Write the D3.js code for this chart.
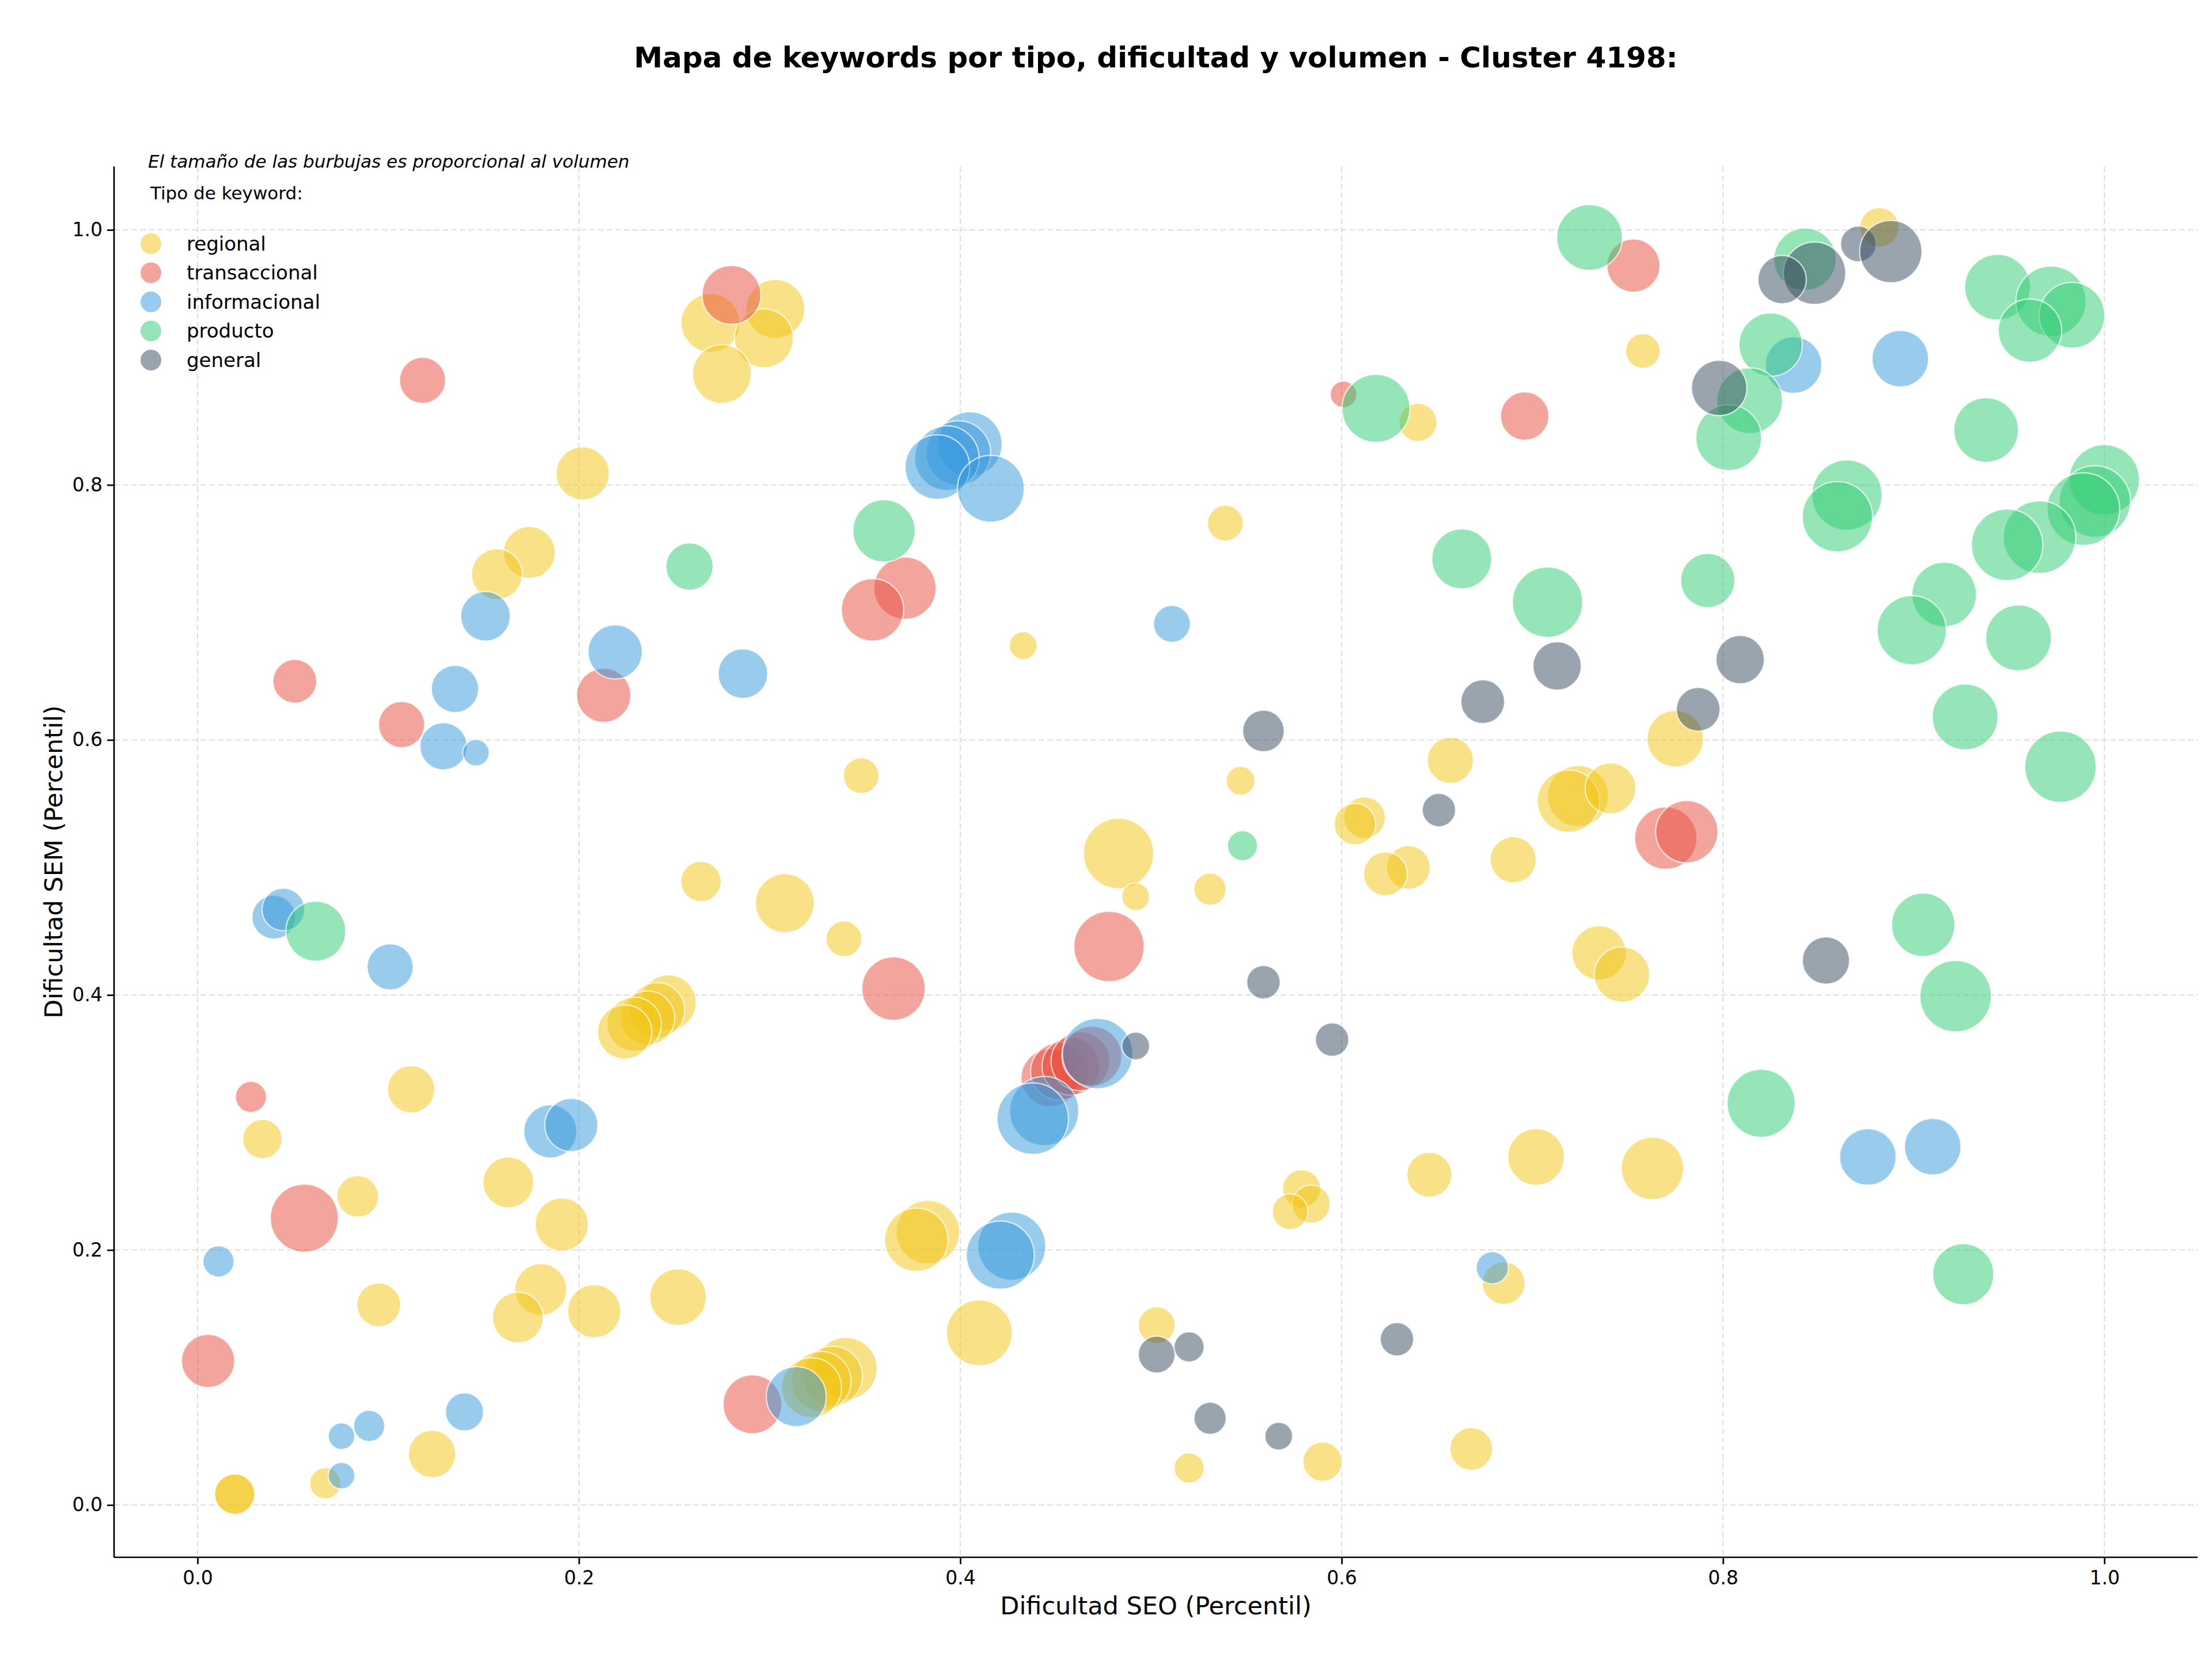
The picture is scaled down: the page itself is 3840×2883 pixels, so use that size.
<!DOCTYPE html>
<html>
<head>
<meta charset="utf-8">
<script src="https://cdn.jsdelivr.net/npm/d3@7"></script>
<style>
  body { margin: 0; background: #fff; }
  svg { font-family: "DejaVu Sans", sans-serif; }
  .axis text { font-size: 33px; fill: #000; }
  .axis path, .axis line { stroke: #000; stroke-width: 2.7px; }
  .grid line { stroke: #dedede; stroke-width: 2px; stroke-dasharray: 10, 5; }
</style>
</head>
<body>
<svg width="3840" height="2883"></svg>
<script>
// [dificultad SEO, dificultad SEM, volumen]
var tipos = ["regional", "transaccional", "informacional", "producto", "general"];
var colores = ["#F1C40F", "#E74C3C", "#3498DB", "#2ECC71", "#34495E"];
var ticks = [0, 0.2, 0.4, 0.6, 0.8, 1.0];

var regional = [
  [0.882, 1.002, 1160], [0.269, 0.927, 2600], [0.303, 0.938, 2600], [0.297, 0.915, 2600],
  [0.275, 0.887, 2600], [0.758, 0.905, 900], [0.202, 0.809, 2120], [0.640, 0.849, 1090],
  [0.174, 0.747, 2020], [0.157, 0.730, 1940], [0.539, 0.770, 960], [0.433, 0.674, 580],
  [0.348, 0.572, 960], [0.547, 0.568, 625], [0.657, 0.584, 1600], [0.775, 0.601, 2400],
  [0.724, 0.556, 2810], [0.719, 0.552, 2920], [0.741, 0.562, 1940], [0.612, 0.539, 1300],
  [0.607, 0.534, 1300], [0.635, 0.500, 1440], [0.623, 0.495, 1440], [0.690, 0.506, 1600],
  [0.483, 0.511, 3720], [0.492, 0.477, 580], [0.531, 0.483, 780], [0.264, 0.489, 1220],
  [0.308, 0.472, 2600], [0.339, 0.444, 960], [0.735, 0.433, 2210], [0.747, 0.416, 2300],
  [0.247, 0.394, 2300], [0.241, 0.388, 2300], [0.236, 0.382, 2210], [0.229, 0.377, 2210],
  [0.224, 0.371, 2210], [0.112, 0.326, 1680], [0.034, 0.287, 1160], [0.084, 0.242, 1300],
  [0.163, 0.253, 1940], [0.191, 0.220, 2120], [0.646, 0.259, 1520], [0.702, 0.273, 2400],
  [0.763, 0.264, 2920], [0.579, 0.248, 1090], [0.584, 0.236, 1090], [0.573, 0.230, 960],
  [0.383, 0.214, 3020], [0.377, 0.208, 3020], [0.095, 0.157, 1440], [0.180, 0.169, 2020],
  [0.168, 0.147, 1940], [0.208, 0.152, 2120], [0.252, 0.163, 2400], [0.410, 0.135, 3250],
  [0.685, 0.174, 1370], [0.503, 0.141, 1020], [0.340, 0.107, 2920], [0.333, 0.101, 2700],
  [0.327, 0.097, 2700], [0.322, 0.092, 2700], [0.123, 0.040, 1680], [0.0195, 0.0085, 1220],
  [0.0195, 0.0085, 1220], [0.067, 0.017, 730], [0.520, 0.029, 680], [0.590, 0.034, 1160],
  [0.668, 0.044, 1370]
];

var transaccional = [
  [0.280, 0.949, 2600], [0.753, 0.972, 2120], [0.118, 0.882, 1600], [0.601, 0.871, 530],
  [0.696, 0.854, 1760], [0.371, 0.719, 2920], [0.354, 0.702, 2920], [0.051, 0.646, 1440],
  [0.107, 0.612, 1600], [0.213, 0.635, 2210], [0.770, 0.523, 2920], [0.781, 0.528, 2920],
  [0.478, 0.438, 3720], [0.365, 0.405, 3020], [0.028, 0.320, 730], [0.056, 0.225, 3480],
  [0.0055, 0.113, 2120], [0.291, 0.079, 2600], [0.447, 0.335, 2500], [0.452, 0.340, 2500],
  [0.458, 0.344, 2500], [0.463, 0.348, 2600], [0.469, 0.352, 2700]
];

var informacional = [
  [0.893, 0.899, 2400], [0.837, 0.894, 2400], [0.405, 0.832, 3140], [0.399, 0.825, 3140],
  [0.393, 0.821, 3140], [0.388, 0.814, 3140], [0.416, 0.797, 3360], [0.151, 0.697, 1850],
  [0.219, 0.669, 2210], [0.511, 0.691, 1020], [0.135, 0.640, 1680], [0.286, 0.652, 1850],
  [0.129, 0.595, 1680], [0.146, 0.590, 530], [0.040, 0.461, 1440], [0.045, 0.467, 1370],
  [0.101, 0.422, 1600], [0.185, 0.293, 2120], [0.196, 0.298, 2120], [0.472, 0.354, 3720],
  [0.444, 0.309, 3600], [0.438, 0.303, 3840], [0.427, 0.203, 3480], [0.421, 0.196, 3480],
  [0.314, 0.085, 2700], [0.011, 0.191, 730], [0.140, 0.073, 1090], [0.090, 0.062, 730],
  [0.0755, 0.054, 530], [0.0755, 0.023, 530], [0.679, 0.186, 780], [0.876, 0.273, 2400],
  [0.910, 0.281, 2400]
];

var producto = [
  [0.730, 0.994, 3250], [0.843, 0.977, 2920], [0.944, 0.955, 3250], [0.972, 0.944, 3720],
  [0.983, 0.933, 3250], [0.961, 0.921, 3020], [0.825, 0.910, 3020], [0.814, 0.866, 3250],
  [0.803, 0.837, 3250], [0.938, 0.843, 3140], [0.618, 0.860, 3480], [1.000, 0.804, 3720],
  [0.995, 0.787, 3840], [0.989, 0.781, 3970], [0.865, 0.792, 3720], [0.860, 0.775, 3720],
  [0.966, 0.759, 3970], [0.949, 0.753, 3840], [0.663, 0.742, 2700], [0.708, 0.708, 3720],
  [0.792, 0.725, 2210], [0.916, 0.714, 3140], [0.899, 0.686, 3600], [0.955, 0.680, 3250],
  [0.927, 0.618, 3250], [0.977, 0.579, 3840], [0.548, 0.517, 680], [0.905, 0.455, 3020],
  [0.922, 0.399, 3840], [0.820, 0.315, 3480], [0.926, 0.181, 2810], [0.360, 0.764, 2920],
  [0.258, 0.736, 1680], [0.062, 0.450, 2700]
];

var general = [
  [0.871, 0.989, 960], [0.888, 0.983, 2920], [0.848, 0.966, 2920], [0.831, 0.961, 1760],
  [0.798, 0.876, 2300], [0.713, 0.658, 1760], [0.809, 0.663, 1760], [0.674, 0.630, 1440],
  [0.787, 0.624, 1440], [0.559, 0.607, 1300], [0.651, 0.545, 840], [0.559, 0.410, 840],
  [0.854, 0.427, 1680], [0.595, 0.365, 840], [0.492, 0.360, 580], [0.503, 0.118, 1020],
  [0.520, 0.124, 680], [0.531, 0.068, 780], [0.567, 0.054, 580], [0.629, 0.130, 840]
];

var series = [regional, transaccional, informacional, producto, general];

function mapaKeywords() {
    var svg = d3.select("svg"),
        margin = { top: 289, right: 25, bottom: 180, left: 198 },
        width = +svg.attr("width") - margin.left - margin.right,
        height = +svg.attr("height") - margin.top - margin.bottom;

    var x = d3.scaleLinear().domain([-0.0438, 1.0489]).range([0, width]);
    var y = d3.scaleLinear().domain([-0.041, 1.0497]).range([height, 0]);
    var r = d3.scaleSqrt().domain([0, 4000]).range([0, 63.25]);

    var g = svg.append("g")
        .attr("transform", "translate(" + margin.left + "," + margin.top + ")");

    // grid
    g.append("g").attr("class", "grid")
        .selectAll("line.v").data(ticks).enter().append("line")
        .attr("x1", function (d) { return x(d); }).attr("x2", function (d) { return x(d); })
        .attr("y1", 0).attr("y2", height);
    g.append("g").attr("class", "grid")
        .selectAll("line.h").data(ticks).enter().append("line")
        .attr("y1", function (d) { return y(d); }).attr("y2", function (d) { return y(d); })
        .attr("x1", 0).attr("x2", width);

    // bubbles, one layer per tipo
    series.forEach(function (data, i) {
        g.append("g").selectAll("circle")
            .data(data)
            .enter().append("circle")
            .attr("cx", function (d) { return x(d[0]); })
            .attr("cy", function (d) { return y(d[1]); })
            .attr("r", function (d) { return r(d[2]); })
            .attr("fill", colores[i])
            .attr("fill-opacity", 0.5)
            .attr("stroke", "#fff")
            .attr("stroke-opacity", 0.7)
            .attr("stroke-width", 2.2);
    });

    var fmt = d3.format(".1f");

    g.append("g")
        .attr("class", "axis")
        .attr("transform", "translate(0," + height + ")")
        .call(d3.axisBottom(x).tickValues(ticks).tickFormat(fmt).tickSize(12).tickPadding(12))
        .call(function (a) { a.select(".domain").attr("d", "M0,0H" + width); });

    g.append("g")
        .attr("class", "axis")
        .call(d3.axisLeft(y).tickValues(ticks).tickFormat(fmt).tickSize(12).tickPadding(8))
        .call(function (a) { a.select(".domain").attr("d", "M0,0V" + height); });

    g.selectAll(".axis text").attr("font-family", "DejaVu Sans");

    svg.append("text")
        .attr("x", margin.left + width / 2)
        .attr("y", 2802)
        .attr("text-anchor", "middle")
        .style("font-size", "43px")
        .text("Dificultad SEO (Percentil)");

    svg.append("text")
        .attr("transform", "translate(93," + (margin.top + height / 2) + ") rotate(-90)")
        .attr("text-anchor", "middle")
        .attr("dy", "0.35em")
        .style("font-size", "43px")
        .text("Dificultad SEM (Percentil)");

    svg.append("text")
        .attr("x", margin.left + width / 2)
        .attr("y", 117)
        .attr("text-anchor", "middle")
        .style("font-size", "50px")
        .style("font-weight", "bold")
        .text("Mapa de keywords por tipo, dificultad y volumen - Cluster 4198:");

    // legend
    svg.append("text")
        .attr("x", 257).attr("y", 280).attr("dy", "0.35em")
        .style("font-size", "31px").style("font-style", "italic")
        .text("El tamaño de las burbujas es proporcional al volumen");

    svg.append("text")
        .attr("x", 261).attr("y", 335).attr("dy", "0.35em")
        .style("font-size", "31px")
        .text("Tipo de keyword:");

    var leg = svg.append("g").selectAll("g")
        .data(tipos)
        .enter().append("g")
        .attr("transform", function (d, i) { return "translate(262," + (423 + i * 50.5) + ")"; });

    leg.append("circle")
        .attr("r", 18)
        .attr("fill", function (d, i) { return colores[i]; })
        .attr("fill-opacity", 0.5);

    leg.append("text")
        .attr("x", 62)
        .attr("dy", "0.35em")
        .style("font-size", "34px")
        .text(function (d) { return d; });
}

mapaKeywords();
</script>
</body>
</html>
